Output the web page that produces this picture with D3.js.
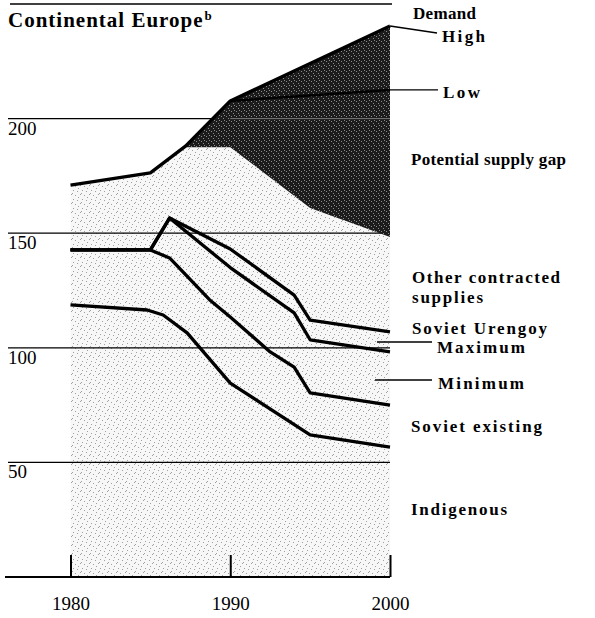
<!DOCTYPE html>
<html><head><meta charset="utf-8">
<script src="https://cdn.jsdelivr.net/npm/d3@7"></script>
<style>
body{margin:0;background:#fff;}
text{font-family:"Liberation Serif","Times New Roman",serif;}
.lab{font-weight:bold;font-size:17px;}
</style></head>
<body><svg id="c" width="595" height="618"></svg>
<script>
// ---- data ----
const demandHigh = [[1980,171],[1985,176.3],[1987.2,188],[1990,207.7],[2000,240.4]];
const demandLow = [[1990,207.7],[2000,212.5]];
const totalSupply = [[1980,171],[1985,176.3],[1987.2,187.5],[1990,187.5],[1995,161],[2000,148.3]];
const otherContracted = [[1980,142.7],[1985,142.7],[1986.2,156.6],[1990,143.1],[1994,123],[1995,112.1],[2000,106.9]];
const urengoyMax = [[1980,142.7],[1985,142.7],[1986.2,156.6],[1990,135],[1994,115.2],[1995,103.5],[2000,98.2]];
const urengoyMin = [[1980,142.7],[1985,142.7],[1986.2,139.2],[1988.7,121],[1990,113.4],[1992.5,98.2],[1994,91.6],[1995,80.3],[2000,75]];
const sovietExisting = [[1980,118.7],[1984.8,116.5],[1985.8,114.3],[1987.3,106.5],[1990,84.6],[1995,62],[2000,56.7]];
const yTicks = [50,100,150,200];
const gridValues = [50,100,150,200,250];
const xTicks = [1980,1990,2000];

const svg = d3.select("#c");
const x = d3.scaleLinear().domain([1980,2000]).range([70.5,390]);
const y = d3.scaleLinear().domain([0,250]).range([577,4]);

// stipple textures
const defs = svg.append("defs");
const pl = defs.append("pattern").attr("id","light").attr("patternUnits","userSpaceOnUse").attr("width",9).attr("height",9);
pl.append("rect").attr("width",9).attr("height",9).attr("fill","#f7f7f7");
[[1,1],[5,2],[8,5],[3,6],[6,8],[0,4]].forEach(d=>pl.append("rect").attr("x",d[0]).attr("y",d[1]).attr("width",1).attr("height",1).attr("fill","#a0a0a0"));
const pd = defs.append("pattern").attr("id","dark").attr("patternUnits","userSpaceOnUse").attr("width",5).attr("height",5);
pd.append("rect").attr("width",5).attr("height",5).attr("fill","#1c1c1c");
[[1,1],[3,3],[4,0]].forEach(d=>pd.append("rect").attr("x",d[0]).attr("y",d[1]).attr("width",1).attr("height",1).attr("fill","#8c8c8c"));

// light area (supply)
const area = d3.area().x(d=>x(d[0])).y0(y(0)).y1(d=>y(d[1]));
svg.append("path").datum(totalSupply).attr("d",area).attr("fill","url(#light)");

// gridlines
svg.selectAll(".grid").data(gridValues).join("line")
  .attr("x1",d=>d===250?10:8).attr("x2",d=>d===250?392:390)
  .attr("y1",d=>y(d)).attr("y2",d=>y(d))
  .attr("stroke","#000").attr("stroke-width",1.3);

// dark area (potential supply gap)
const gapYears = [1980,1985,1987.2,1990,1995,2000];
const hi = d3.scaleLinear().domain(demandHigh.map(d=>d[0])).range(demandHigh.map(d=>d[1]));
const lo = d3.scaleLinear().domain(totalSupply.map(d=>d[0])).range(totalSupply.map(d=>d[1]));
const gap = gapYears.map(t=>[t,hi(t),Math.min(lo(t),hi(t))]);
svg.append("path").datum(gap)
  .attr("d",d3.area().x(d=>x(d[0])).y0(d=>y(d[2])).y1(d=>y(d[1])))
  .attr("fill","url(#dark)");
svg.append("line").attr("x1",x(1990)).attr("x2",x(2000)).attr("y1",y(200)).attr("y2",y(200))
  .attr("stroke","#777").attr("stroke-width",1);

// lines
const line = d3.line().x(d=>x(d[0])).y(d=>y(d[1]));
[demandHigh, otherContracted, urengoyMax, urengoyMin, sovietExisting].forEach(s=>{
  svg.append("path").datum(s).attr("d",line).attr("fill","none")
    .attr("stroke","#000").attr("stroke-width",3.3).attr("stroke-linejoin","round");
});
svg.append("path").datum(demandLow).attr("d",line).attr("fill","none")
  .attr("stroke","#000").attr("stroke-width",2.5);

// x axis
svg.append("line").attr("x1",5).attr("x2",390).attr("y1",y(0)).attr("y2",y(0)).attr("stroke","#000").attr("stroke-width",2);
const xa = svg.append("g").attr("transform",`translate(0,${y(0)})`)
  .call(d3.axisBottom(x).tickValues(xTicks).tickFormat(d3.format("d")).tickSizeInner(-22).tickSizeOuter(0).tickPadding(20));
xa.select(".domain").remove();
xa.selectAll(".tick line").attr("stroke","#000").attr("stroke-width",2);
xa.selectAll(".tick text").attr("font-family","Liberation Serif").attr("font-size",19).attr("fill","#000");

// y labels
svg.selectAll(".ylab").data(yTicks).join("text")
  .attr("x",8).attr("y",d=>y(d)+16).attr("font-size",19).text(d=>d);

// title
const t = svg.append("text").attr("x",8).attr("y",27).attr("font-size",21).attr("font-weight","bold").attr("letter-spacing",1);
t.append("tspan").text("Continental Europe");
t.append("tspan").attr("font-size",13).attr("dy",-7).attr("dx",1).text("b");

// right labels [text, x, baseline, width]
const labels = [
  ["Demand",413,19,63],["High",442,42,43],["Low",443,98,37],["Potential supply gap",411,165,155],
  ["Other contracted",412,283,148],["supplies",412,303,71],["Soviet Urengoy",412,334,135],
  ["Maximum",437,353,88],["Minimum",438,389,86],["Soviet existing",411,432,131],["Indigenous",411,515,96]
];
svg.selectAll(".lab").data(labels).join("text").attr("class","lab")
  .attr("x",d=>d[1]).attr("y",d=>d[2]).attr("textLength",d=>d[3]).attr("lengthAdjust","spacing").text(d=>d[0]);

// leader lines
const leaders = [
  [x(2000),y(240.4),437,33],[x(2000),y(212.5),438,y(212.5)],
  [377,342,432,342],[375,380,432,380]
];
svg.selectAll(".lead").data(leaders).join("line")
  .attr("x1",d=>d[0]).attr("y1",d=>d[1]).attr("x2",d=>d[2]).attr("y2",d=>d[3])
  .attr("stroke","#000").attr("stroke-width",1.3);
</script></body></html>
